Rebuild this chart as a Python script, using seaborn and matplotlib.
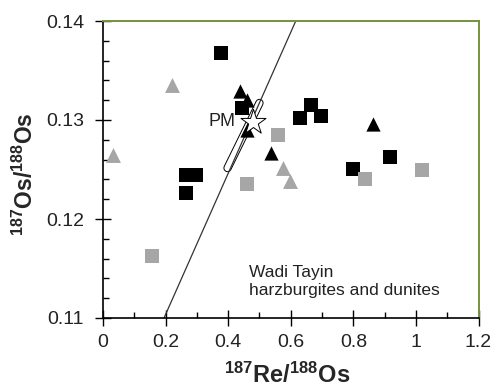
import numpy as np
import pandas as pd
import matplotlib
matplotlib.use("Agg")
import matplotlib.pyplot as plt
from matplotlib.ticker import MultipleLocator, FormatStrFormatter, FuncFormatter
import seaborn as sns

# Wadi Tayin harzburgites and dunites: 187Re/188Os vs 187Os/188Os
black_sq_x = [0.376, 0.445, 0.266, 0.296, 0.266, 0.628, 0.666, 0.697, 0.918, 0.799]
black_sq_y = [0.1368, 0.1312, 0.1244, 0.1244, 0.1226, 0.1302, 0.1315, 0.1304, 0.1263, 0.1251]

gray_sq_x = [0.837, 1.018, 0.559, 0.459, 0.158]
gray_sq_y = [0.1240, 0.1249, 0.1285, 0.1235, 0.1163]

gray_tri_x = [0.219, 0.031, 0.576, 0.599]
gray_tri_y = [0.1335, 0.1265, 0.1252, 0.1238]

black_tri_x = [0.439, 0.460, 0.461, 0.538, 0.862]
black_tri_y = [0.1329, 0.1320, 0.1290, 0.1267, 0.1296]

# primitive mantle
pm_x = [0.479]
pm_y = [0.1298]

# reference line and primitive-mantle range
line_x = [0.195, 0.616]
line_y = [0.110, 0.140]
pm_range_x = [0.398, 0.500]
pm_range_y = [0.12515, 0.13172]

x_ticks = [0, 0.2, 0.4, 0.6, 0.8, 1.0, 1.2]
y_ticks = [0.11, 0.12, 0.13, 0.14]

sns.set_style("white")
plt.rcParams["font.family"] = ["Liberation Sans", "DejaVu Sans"]
plt.rcParams["mathtext.fontset"] = "custom"
plt.rcParams["mathtext.rm"] = "Liberation Sans"
plt.rcParams["mathtext.bf"] = "Liberation Sans:bold"

fig = plt.figure(figsize=(4.95, 3.87), dpi=100)
ax = fig.add_axes([103 / 495, 1 - 318 / 387, 375.5 / 495, 297 / 387])

# primitive-mantle range drawn as an outlined capsule
ax.plot(pm_range_x, pm_range_y, color="black", lw=6.0, solid_capstyle="round", zorder=2)
ax.plot(pm_range_x, pm_range_y, color="white", lw=4.6, solid_capstyle="round", zorder=2.1)

ax.plot(line_x, line_y, color="#333333", lw=0.9, zorder=2.5)

groups = [
    (black_sq_x, black_sq_y, "s", "black", 95),
    (gray_sq_x, gray_sq_y, "s", "#A6A6A6", 95),
    (gray_tri_x, gray_tri_y, "^", "#A6A6A6", 115),
    (black_tri_x, black_tri_y, "^", "black", 105),
]
for gx, gy, mk, col, sz in groups:
    df = pd.DataFrame({"x": gx, "y": gy})
    sns.scatterplot(data=df, x="x", y="y", marker=mk, color=col, s=sz,
                    linewidth=0, ax=ax, zorder=3, legend=False)

sns.scatterplot(x=pm_x, y=pm_y, marker="*", s=360, facecolor="white",
                edgecolor="black", linewidth=0.7, ax=ax, zorder=4, legend=False)
ax.text(0.424, pm_y[0], "PM", ha="right", va="center", fontsize=13, color="#222222")

ax.text(0.466, 0.1137, "Wadi Tayin\nharzburgites and dunites", ha="left", va="center",
        fontsize=12.5, color="#222222", linespacing=1.2)

ax.set_xlim(0, 1.2)
ax.set_ylim(0.11, 0.14)
ax.set_xticks(x_ticks)
ax.set_yticks(y_ticks)
ax.xaxis.set_major_formatter(FuncFormatter(lambda v, p: f"{v:g}"))
ax.yaxis.set_major_formatter(FormatStrFormatter("%.2f"))
ax.xaxis.set_minor_locator(MultipleLocator(0.1))
ax.yaxis.set_minor_locator(MultipleLocator(0.002))

ax.tick_params(which="major", direction="inout", length=11, width=1.0, color="black",
               labelsize=14, labelcolor="#222222")
ax.tick_params(axis="x", which="major", pad=6)
ax.tick_params(axis="y", which="major", pad=8)
ax.tick_params(which="minor", direction="in", length=4.5, width=1.0, color="black")
ax.tick_params(top=False, right=False, which="both")
ax.tick_params(axis="x", which="both", bottom=True)
ax.tick_params(axis="y", which="both", left=True)

for side in ("left", "bottom"):
    ax.spines[side].set_color("black")
    ax.spines[side].set_linewidth(1.2)
for side in ("top", "right"):
    ax.spines[side].set_color("#77933C")
    ax.spines[side].set_linewidth(1.4)

ax.set_xlabel(r"$\mathbf{^{187}Re/^{188}Os}$", fontsize=17, va="baseline")
ax.set_ylabel(r"$\mathbf{^{187}Os/^{188}Os}$", fontsize=16.5, va="baseline")
ax.xaxis.set_label_coords(0.49, -0.218)
ax.yaxis.set_label_coords(-0.188, 0.485)

fig.savefig("out.png", dpi=100)
